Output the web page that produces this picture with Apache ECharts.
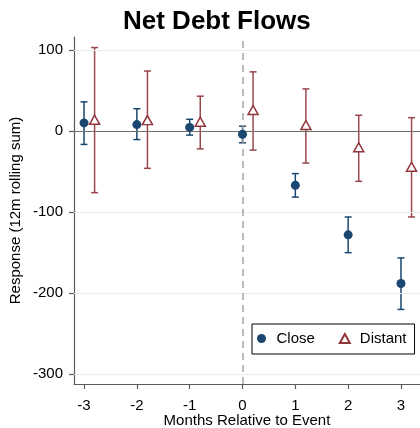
<!DOCTYPE html>
<html>
<head>
<meta charset="utf-8">
<title>Net Debt Flows</title>
<script src="https://cdn.jsdelivr.net/npm/echarts@6/dist/echarts.min.js"></script>
<style>
  html, body { margin: 0; padding: 0; background: #fff; }
  #chart { width: 420px; height: 428px; }
</style>
</head>
<body>
<div id="chart"></div>
<script>
// Event-study coefficients with confidence bands
const months = [-3, -2, -1, 0, 1, 2, 3];

const closeCoef = [10, 8, 4.5, -4, -67, -128, -188];
const closeLo   = [-16.5, -10.5, -5, -14.5, -81.5, -150, -220];
const closeHi   = [36, 27.5, 14.5, 6, -52.5, -106, -156.5];

const distantCoef = [14, 13.5, 11.5, 26, 7.5, -20, -44];
const distantLo   = [-76, -46, -22, -23.5, -39.5, -62, -106];
const distantHi   = [103, 74, 43, 73, 52, 19.5, 16.5];

const yTicks = [-300, -200, -100, 0, 100];
const xTicks = [-3, -2, -1, 0, 1, 2, 3];

// Distant estimates are nudged right so both bands stay readable
const DISTANT_SHIFT = 0.2;

const NAVY = '#1a476f';
const MAROON = '#90353b';
const FONT = '"Liberation Sans", Arial, Helvetica, sans-serif';

function bandData(lo, hi, shift) {
  return months.map((m, i) => [m + shift, lo[i], hi[i]]);
}
function pointData(coef, shift) {
  return months.map((m, i) => [m + shift, coef[i]]);
}

function capBars(color, opacity) {
  return function (params, api) {
    const x = api.value(0);
    const top = api.coord([x, api.value(2)]);
    const bot = api.coord([x, api.value(1)]);
    const half = 3.5;
    const style = { stroke: color, lineWidth: 1.5, opacity: opacity };
    return {
      type: 'group',
      children: [
        { type: 'line', shape: { x1: top[0], y1: top[1], x2: bot[0], y2: bot[1] }, style: style },
        { type: 'line', shape: { x1: top[0] - half, y1: top[1], x2: top[0] + half, y2: top[1] }, style: style },
        { type: 'line', shape: { x1: bot[0] - half, y1: bot[1], x2: bot[0] + half, y2: bot[1] }, style: style }
      ]
    };
  };
}

const chart = echarts.init(document.getElementById('chart'), null, { renderer: 'canvas' });

chart.setOption({
  animation: false,
  backgroundColor: '#ffffff',
  textStyle: { fontFamily: FONT },
  title: {
    text: 'Net Debt Flows',
    left: 118,
    top: 4,
    textStyle: { fontFamily: FONT, fontWeight: 'bold', fontSize: 26, color: '#000' }
  },
  grid: { left: 74, right: 0, top: 37, bottom: 44, containLabel: false, outerBoundsMode: 'none' },
  legend: {
    left: 252,
    top: 324,
    orient: 'horizontal',
    borderColor: '#000',
    borderWidth: 1,
    padding: [7, 8, 8, 5],
    itemWidth: 10,
    itemHeight: 9,
    itemGap: 24,
    textStyle: { fontFamily: FONT, fontSize: 15, color: '#000', padding: [0, 0, 0, 5] },
    data: [
      { name: 'Close', icon: 'circle' },
      { name: 'Distant', icon: 'triangle' }
    ]
  },
  xAxis: {
    type: 'value',
    min: -3.19,
    max: 3.36,
    name: 'Months Relative to Event',
    nameLocation: 'middle',
    nameGap: 29,
    nameMoveOverlap: false,
    nameTextStyle: { fontFamily: FONT, fontSize: 15, color: '#000' },
    axisLine: { onZero: false, lineStyle: { color: '#5a5a5a', width: 1.2 } },
    axisTick: { show: true, inside: false, length: 5, customValues: xTicks, lineStyle: { color: '#5a5a5a', width: 1.2 } },
    axisLabel: { customValues: xTicks, margin: 14, fontFamily: FONT, fontSize: 15, color: '#000' },
    splitLine: { show: false }
  },
  yAxis: {
    type: 'value',
    min: -312,
    max: 116,
    name: 'Response (12m rolling sum)',
    nameLocation: 'middle',
    nameGap: 51,
    nameRotate: 90,
    nameMoveOverlap: false,
    nameTextStyle: { fontFamily: FONT, fontSize: 15, color: '#000' },
    axisLine: { show: true, onZero: false, lineStyle: { color: '#5a5a5a', width: 1.2 } },
    axisTick: { show: true, inside: false, length: 5, customValues: yTicks, lineStyle: { color: '#5a5a5a', width: 1.2 } },
    axisLabel: { customValues: yTicks, margin: 11, fontFamily: FONT, fontSize: 15, color: '#000' },
    splitLine: { show: false }
  },
  series: [
    {
      // gridlines, zero reference and event marker
      name: 'refs',
      type: 'line',
      data: [],
      silent: true,
      markLine: {
        silent: true,
        symbol: 'none',
        label: { show: false },
        animation: false,
        data: yTicks.filter(v => v !== 0).map(v => ({
          yAxis: v, lineStyle: { color: '#e8eff2', width: 1.2, type: 'solid' }
        })).concat([
          { yAxis: 0, lineStyle: { color: '#6e6e6e', width: 1.2, type: 'solid' } },
          { xAxis: 0, lineStyle: { color: '#a6a6a6', width: 1.5, type: [7, 5] } }
        ])
      }
    },
    {
      name: 'Close band',
      type: 'custom',
      renderItem: capBars(NAVY, 1),
      encode: { x: 0, y: [1, 2] },
      data: bandData(closeLo, closeHi, 0),
      z: 3
    },
    {
      name: 'Distant band',
      type: 'custom',
      renderItem: capBars(MAROON, 0.9),
      encode: { x: 0, y: [1, 2] },
      data: bandData(distantLo, distantHi, DISTANT_SHIFT),
      z: 3
    },
    {
      name: 'Close',
      type: 'scatter',
      symbol: 'circle',
      symbolSize: 9,
      itemStyle: { color: NAVY, opacity: 1 },
      data: pointData(closeCoef, 0),
      z: 5
    },
    {
      name: 'Distant',
      type: 'scatter',
      symbol: 'triangle',
      symbolSize: [10, 9],
      itemStyle: { color: '#ffffff', borderColor: MAROON, borderWidth: 1.5, opacity: 1 },
      data: pointData(distantCoef, DISTANT_SHIFT),
      z: 5
    }
  ]
});
</script>
</body>
</html>
